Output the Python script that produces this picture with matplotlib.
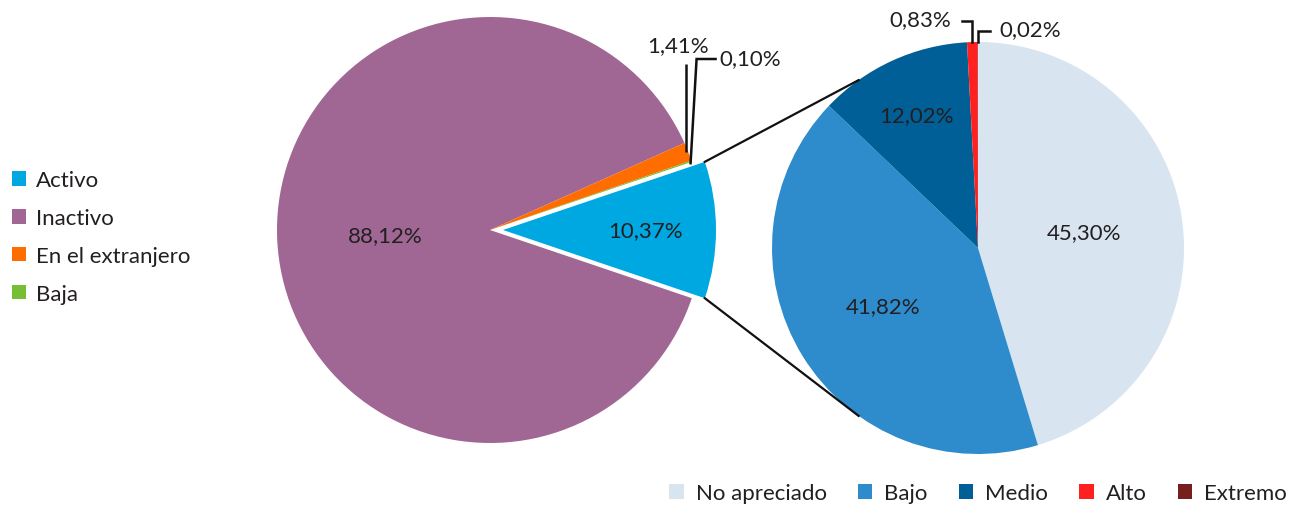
import numpy as np
import matplotlib
matplotlib.use('Agg')
import matplotlib.pyplot as plt

plt.rcParams['font.family'] = ['Lato', 'DejaVu Sans']

# left pie: estado
estado_labels = ['Activo', 'Inactivo', 'En el extranjero', 'Baja']
estado_values = [10.37, 88.12, 1.41, 0.10]
estado_colors = ['#00a8e1', '#a06794', '#ff6d00', '#76bf35']

# right pie: riesgo among activos
riesgo_labels = ['No apreciado', 'Bajo', 'Medio', 'Alto', 'Extremo']
riesgo_values = [45.30, 41.82, 12.02, 0.83, 0.02]
riesgo_colors = ['#d8e4f0', '#2e8bcc', '#005f96', '#ff2020', '#76201e']

W, H = 1289, 506
FS = 16
TC = '#231f20'


def fmt(v):
    return f'{v:.2f}%'.replace('.', ',')


def edge_point(center, r, ang):
    a = np.deg2rad(ang)
    return center[0] + r * np.cos(a), center[1] + r * np.sin(a)


fig = plt.figure(figsize=(W / 100, H / 100), dpi=100)
ax = fig.add_axes([0, 0, 1, 1])

# --- left pie ---
c1, r1 = (490, H - 231), 213
start1 = 360 * estado_values[0] / 100 / 2
w1, _ = ax.pie(estado_values, colors=estado_colors, startangle=start1,
               counterclock=False, center=c1, radius=r1,
               explode=[13, 0, 0, 0], wedgeprops=dict(linewidth=0))

# --- right pie ---
c2, r2 = (978, H - 249), 206
w2, _ = ax.pie(riesgo_values, colors=riesgo_colors, startangle=90,
               counterclock=False, center=c2, radius=r2,
               wedgeprops=dict(linewidth=0))

# inside labels: (wedge, distance fraction)
inside = [(w1[0], 0.67, estado_values[0]), (w1[1], 0.49, estado_values[1]),
          (w2[0], 0.52, riesgo_values[0]), (w2[1], 0.54, riesgo_values[1]),
          (w2[2], 0.71, riesgo_values[2])]
for w, d, v in inside:
    mid = (w.theta1 + w.theta2) / 2
    x, y = edge_point(w.center, w.r * d, mid)
    ax.text(x, y, fmt(v), ha='center', va='center', fontsize=FS, color=TC)

lc = '#111111'
lw = 1.8

# 1,41% leader
w = w1[2]
x0, y0 = edge_point(w.center, w.r, (w.theta1 + w.theta2) / 2)
ax.plot([x0 - 2, x0 - 2], [y0, H - 65], color=lc, lw=lw, solid_capstyle='butt')
ax.text(x0 - 10, H - 46, fmt(estado_values[2]), ha='center', va='center',
        fontsize=FS, color=TC)

# 0,10% leader
w = w1[3]
x0, y0 = edge_point(w.center, w.r, (w.theta1 + w.theta2) / 2)
ax.plot([x0 - 1, x0 + 5, x0 + 24], [y0 - 2, H - 60, H - 60], color=lc, lw=lw,
        solid_joinstyle='miter')
ax.text(x0 + 28, H - 59, fmt(estado_values[3]), ha='left', va='center',
        fontsize=FS, color=TC)

# 0,83% leader
w = w2[3]
x0, y0 = edge_point(w.center, w.r, (w.theta1 + w.theta2) / 2)
ax.plot([x0, x0, x0 - 10], [y0, H - 22, H - 22], color=lc, lw=lw,
        solid_joinstyle='miter')
ax.text(x0 - 21, H - 20, fmt(riesgo_values[3]), ha='right', va='center',
        fontsize=FS, color=TC)

# 0,02% leader
w = w2[4]
x0, y0 = edge_point(w.center, w.r, (w.theta1 + w.theta2) / 2)
ax.plot([x0, x0, x0 + 12], [y0, H - 32, H - 32], color=lc, lw=lw,
        solid_joinstyle='miter')
ax.text(x0 + 22, H - 30, fmt(riesgo_values[4]), ha='left', va='center',
        fontsize=FS, color=TC)

# connector lines from Activo wedge to right pie
wa = w1[0]
for ang_a, ang_b in [(wa.theta2, 125.4), (wa.theta1, -125.4)]:
    xa, ya = edge_point(wa.center, wa.r, ang_a)
    xb, yb = edge_point(c2, r2, ang_b)
    ax.plot([xa, xb], [ya, yb], color=lc, lw=1.6)

# legends
leg1 = ax.legend(w1, estado_labels, loc='center left', bbox_to_anchor=(12, H - 238),
                 bbox_transform=ax.transData, frameon=False, fontsize=FS,
                 handlelength=0.64, handleheight=0.64, handletextpad=0.45,
                 labelspacing=0.8, borderaxespad=0, borderpad=0)
for t in leg1.get_texts():
    t.set_color(TC)
ax.add_artist(leg1)

leg2 = ax.legend(w2, riesgo_labels, loc='center right', bbox_to_anchor=(1287, H - 494),
                 bbox_transform=ax.transData, frameon=False, fontsize=FS, ncol=5,
                 handlelength=0.64, handleheight=0.64, handletextpad=0.55,
                 columnspacing=1.4, borderaxespad=0, borderpad=0)
for t in leg2.get_texts():
    t.set_color(TC)

ax.set_xlim(0, W)
ax.set_ylim(0, H)
ax.set_aspect('equal')
ax.axis('off')

fig.savefig('out.png', dpi=100)
